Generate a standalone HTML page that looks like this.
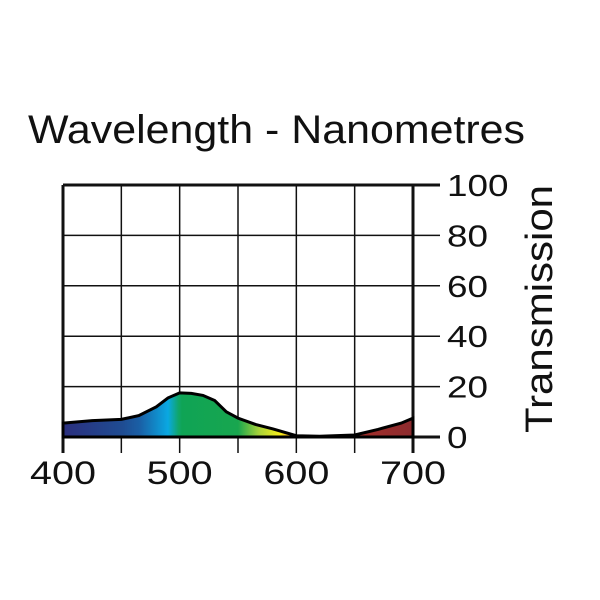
<!DOCTYPE html>
<html><head><meta charset="utf-8"><style>
html,body{margin:0;padding:0;background:#fff;}
svg{display:block;font-family:"Liberation Sans",Arial,sans-serif;}
</style></head><body>
<svg id="chart" width="600" height="600" viewBox="0 0 600 600">
<defs>
<linearGradient id="spec" gradientUnits="userSpaceOnUse" x1="63" y1="0" x2="413" y2="0">
<stop offset="0" stop-color="#2b2f7e"/>
<stop offset="0.17" stop-color="#1f4c92"/>
<stop offset="0.22" stop-color="#1a60a6"/>
<stop offset="0.3" stop-color="#0aa8e2"/>
<stop offset="0.33" stop-color="#10a66a"/>
<stop offset="0.34" stop-color="#0fa455"/>
<stop offset="0.5" stop-color="#18a64f"/>
<stop offset="0.56" stop-color="#a8d23a"/>
<stop offset="0.62" stop-color="#f6ee1a"/>
<stop offset="0.67" stop-color="#e87a20"/>
<stop offset="0.75" stop-color="#b03028"/>
<stop offset="1" stop-color="#8c2b2e"/>
</linearGradient>
</defs>
<text x="28" y="143" font-size="40" textLength="497" lengthAdjust="spacingAndGlyphs" fill="#111">Wavelength - Nanometres</text>
<g id="grid"></g>
<path id="area" fill="url(#spec)" stroke="#000" stroke-width="3"></path>
<g id="axes"></g>
<text transform="translate(552,433) rotate(-90)" font-size="38" textLength="248" lengthAdjust="spacingAndGlyphs" fill="#111">Transmission</text>
</svg>
<script>
const wavelengths=[400,425,450,465,480,490,500,510,520,530,540,550,565,580,600,620,650,670,690,700];
const transmission=[5.5,6.5,7,8.5,12,15.5,17.5,17.3,16.5,14.5,10,7.5,5,3.2,0.5,0.3,0.8,3,5.5,7.5];
const xTicks=[400,500,600,700];
const yTicks=[0,20,40,60,80,100];
const NS="http://www.w3.org/2000/svg";
const x=v=>63+(v-400)*350/300;
const y=v=>437-v*2.52;
const grid=document.getElementById('grid'), axes=document.getElementById('axes');
function ln(p,x1,y1,x2,y2,w){const l=document.createElementNS(NS,'line');l.setAttribute('x1',x1);l.setAttribute('y1',y1);l.setAttribute('x2',x2);l.setAttribute('y2',y2);l.setAttribute('stroke','#111');l.setAttribute('stroke-width',w);p.appendChild(l);return l;}
for(let v=400;v<=700;v+=50){const l=ln(grid,x(v),185,x(v),453,(v==400||v==700)?3:1.5);

}
for(const t of yTicks){const l=ln(grid,63,y(t),440,y(t),(t==0||t==100)?3:1.5);


const tx=document.createElementNS(NS,'text');tx.setAttribute('x',447);tx.setAttribute('y',y(t)+11);tx.setAttribute('font-size','31');tx.setAttribute('fill','#111');tx.textContent=t;
tx.setAttribute('textLength',String(t).length*20.5);tx.setAttribute('lengthAdjust','spacingAndGlyphs');


axes.appendChild(tx);}
for(const t of xTicks){const tx=document.createElementNS(NS,'text');tx.setAttribute('x',x(t)-33);tx.setAttribute('y',484);tx.setAttribute('font-size','32');tx.setAttribute('fill','#111');tx.textContent=t;
tx.setAttribute('textLength',66);tx.setAttribute('lengthAdjust','spacingAndGlyphs');


axes.appendChild(tx);}
let d='M'+x(wavelengths[0])+','+y(0);
wavelengths.forEach((w,i)=>{d+=' L'+x(w).toFixed(1)+','+y(transmission[i]).toFixed(1);});
d+=' L'+x(wavelengths[wavelengths.length-1])+','+y(0)+' Z';
document.getElementById('area').setAttribute('d',d);
</script>
</body></html>
